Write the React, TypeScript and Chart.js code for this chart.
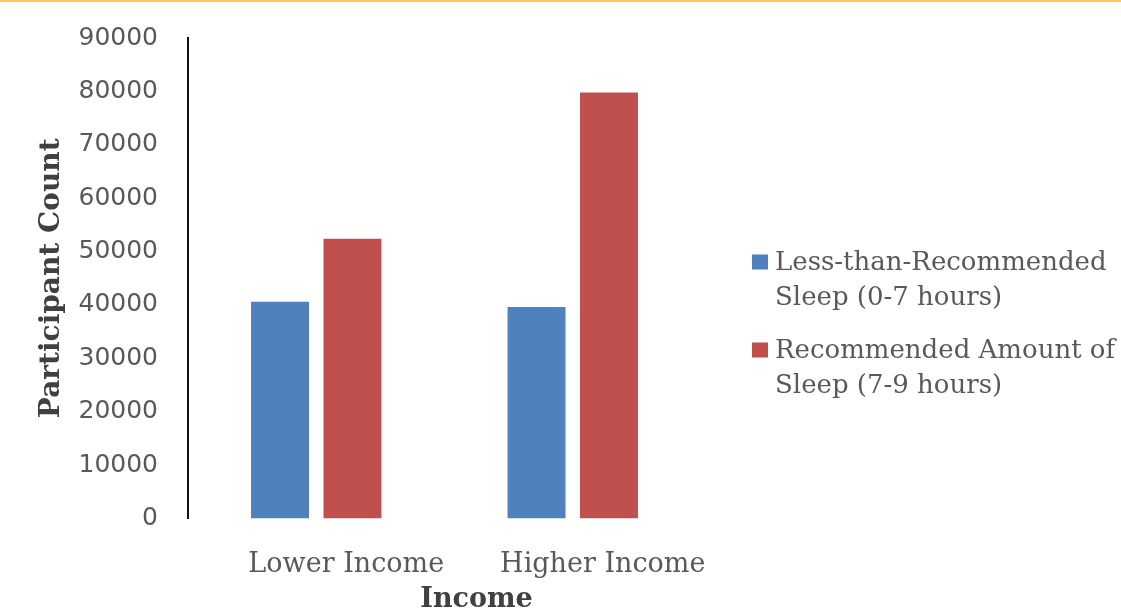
import React, { useEffect, useRef } from "react";
import { Chart, registerables } from "chart.js";

Chart.register(...registerables);

const categories = ["Lower Income", "Higher Income"];
const lessSleep = [40600, 39600];
const recommendedSleep = [52400, 79800];
const seriesNames = ["Less-than-Recommended Sleep (0-7 hours)", "Recommended Amount of Sleep (7-9 hours)"];
const legendLines = [
  ["Less-than-Recommended", "Sleep (0-7 hours)"],
  ["Recommended Amount of", "Sleep (7-9 hours)"],
];
const seriesColors = ["#4F81BD", "#C0504D"];
const yMin = 0;
const yMax = 90000;
const yStep = 10000;

const GRAY = "#595959";

const decorPlugin = {
  id: "decor",
  afterLayout(chart: any) {
    const xs = chart.scales.x;
    if (xs) {
      // shift the axis-title centre to match the reference placement
      xs.right = xs.right + 64;
    }
  },
  beforeDraw(chart: any) {
    const ctx = chart.ctx;
    ctx.save();
    ctx.fillStyle = "#ffffff";
    ctx.fillRect(0, 0, chart.width, chart.height);
    ctx.fillStyle = "#FFC857";
    ctx.fillRect(0, 0, chart.width, 2);
    ctx.restore();
  },
  afterDraw(chart: any) {
    const ctx = chart.ctx;
    ctx.save();
    const boxX = 752;
    const textX = 775;
    const starts = [262, 350];
    const lineGap = 35.5;
    legendLines.forEach((lines, i) => {
      const y0 = starts[i];
      ctx.fillStyle = seriesColors[i];
      ctx.fillRect(boxX, y0 - 7.5, 16, 15);
      ctx.fillStyle = GRAY;
      ctx.font = "26px 'DejaVu Serif'";
      ctx.textBaseline = "middle";
      ctx.textAlign = "left";
      lines.forEach((t, j) => ctx.fillText(t, textX, y0 + 1 + j * lineGap));
    });
    ctx.restore();
  },
};

export default function App() {
  const ref = useRef<HTMLCanvasElement | null>(null);
  useEffect(() => {
    if (!ref.current) return;
    const chart = new Chart(ref.current, {
      type: "bar",
      data: {
        labels: categories,
        datasets: [
          {
            label: seriesNames[0],
            data: lessSleep,
            backgroundColor: seriesColors[0],
            categoryPercentage: 0.565,
            barPercentage: 0.8,
          },
          {
            label: seriesNames[1],
            data: recommendedSleep,
            backgroundColor: seriesColors[1],
            categoryPercentage: 0.565,
            barPercentage: 0.8,
          },
        ],
      },
      options: {
        animation: false,
        responsive: false,
        maintainAspectRatio: false,
        layout: { padding: { top: 38, right: 420, left: 0, bottom: 0 } },
        plugins: {
          legend: { display: false },
          tooltip: { enabled: false },
          title: { display: false },
        },
        scales: {
          x: {
            grid: { display: false, drawTicks: false },
            border: { display: false },
            ticks: {
              color: GRAY,
              font: { family: "'DejaVu Serif'", size: 27 },
              padding: 30,
              maxRotation: 0,
              labelOffset: 30,
            },
            title: {
              display: true,
              text: "Income",
              color: "#404040",
              font: { family: "'DejaVu Serif'", size: 27, weight: "bold", lineHeight: 1 },
              padding: { top: 0, bottom: -3 },
            },
            afterFit(scale: any) {
              scale.height = 91.5;
            },
          },
          y: {
            min: yMin,
            max: yMax,
            grid: { display: false, drawTicks: true, tickLength: 30 },
            border: { display: true, color: "#111111", width: 2 },
            ticks: {
              stepSize: yStep,
              color: GRAY,
              font: { family: "'DejaVu Sans'", size: 25 },
              padding: 0,
              callback: (v: any) => String(v),
            },
            title: {
              display: true,
              text: "Participant Count",
              color: "#404040",
              font: { family: "'DejaVu Serif'", size: 28, weight: "bold" },
              padding: { top: 35, bottom: 0 },
            },
            afterFit(scale: any) {
              scale.width = 188;
            },
          },
        },
      },
      plugins: [decorPlugin],
    });
    return () => chart.destroy();
  }, []);
  return (
    <div style={{ position: "fixed", left: 0, top: 0, width: 1121, height: 610, background: "#fff" }}>
      <canvas ref={ref} width={1121} height={610} style={{ display: "block", width: 1121, height: 610 }} />
    </div>
  );
}
